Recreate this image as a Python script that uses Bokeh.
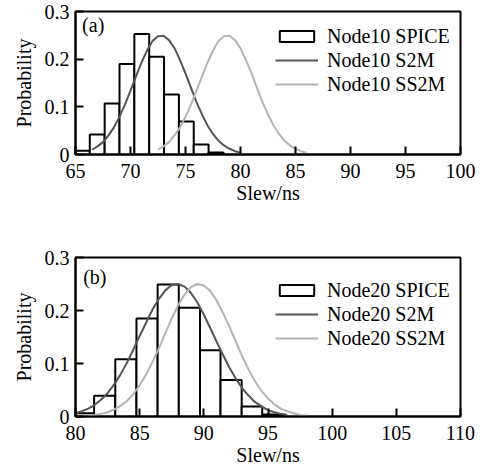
from bokeh.plotting import figure
from bokeh.models import Range1d, FixedTicker, Label
from bokeh.layouts import column
from bokeh.embed import file_html
from bokeh.resources import INLINE

# ---------------- data: panel (a) ----------------
a_edges = [65.0, 66.3, 67.65, 69.0, 70.35, 71.7, 73.05, 74.4, 75.75, 77.1, 78.45]
a_spice = [0.008, 0.042, 0.107, 0.190, 0.253, 0.205, 0.126, 0.069, 0.021, 0.004]
a_s2m_x = [66.5, 67.0, 67.5, 68.0, 68.5, 69.0, 69.5, 70.0, 70.5, 71.0, 71.5, 72.0, 72.5, 73.0,
           73.5, 74.0, 74.5, 75.0, 75.5, 76.0, 76.5, 77.0, 77.5, 78.0, 78.5, 79.0, 79.5, 80.0]
a_s2m_y = [0.010, 0.017, 0.026, 0.040, 0.057, 0.079, 0.105, 0.134, 0.164, 0.193, 0.218, 0.238, 0.248, 0.249,
           0.240, 0.223, 0.198, 0.170, 0.140, 0.110, 0.084, 0.061, 0.043, 0.029, 0.019, 0.012, 0.007, 0.004]
a_ss2m_x = [72.5, 73.0, 73.5, 74.0, 74.5, 75.0, 75.5, 76.0, 76.5, 77.0, 77.5, 78.0, 78.5, 79.0,
            79.5, 80.0, 80.5, 81.0, 81.5, 82.0, 82.5, 83.0, 83.5, 84.0, 84.5, 85.0, 85.5, 86.0]
a_ss2m_y = [0.010, 0.017, 0.026, 0.040, 0.057, 0.079, 0.105, 0.134, 0.164, 0.193, 0.218, 0.238, 0.248, 0.249,
            0.240, 0.223, 0.198, 0.170, 0.140, 0.110, 0.084, 0.061, 0.043, 0.029, 0.019, 0.012, 0.007, 0.004]
a_xticks = [65, 70, 75, 80, 85, 90, 95, 100]

# ---------------- data: panel (b) ----------------
b_edges = [80.0, 81.45, 83.1, 84.75, 86.4, 88.05, 89.7, 91.3, 92.95, 94.55, 96.2]
b_spice = [0.006, 0.039, 0.108, 0.185, 0.249, 0.205, 0.125, 0.069, 0.019, 0.004]
b_s2m_x = [80.0, 80.5, 81.0, 81.5, 82.0, 82.5, 83.0, 83.5, 84.0, 84.5, 85.0, 85.5, 86.0, 86.5, 87.0, 87.5, 88.0,
           88.5, 89.0, 89.5, 90.0, 90.5, 91.0, 91.5, 92.0, 92.5, 93.0, 93.5, 94.0, 94.5, 95.0, 95.5, 96.0, 96.5]
b_s2m_y = [0.006, 0.010, 0.015, 0.022, 0.032, 0.044, 0.060, 0.079, 0.101, 0.126, 0.152, 0.177, 0.202, 0.222, 0.238, 0.248, 0.250,
           0.245, 0.233, 0.215, 0.192, 0.167, 0.141, 0.116, 0.092, 0.071, 0.053, 0.039, 0.027, 0.019, 0.012, 0.008, 0.005, 0.003]
b_ss2m_x = [81.0, 81.5, 82.0, 82.5, 83.0, 83.5, 84.0, 84.5, 85.0, 85.5, 86.0, 86.5, 87.0, 87.5, 88.0, 88.5, 89.0, 89.5,
            90.0, 90.5, 91.0, 91.5, 92.0, 92.5, 93.0, 93.5, 94.0, 94.5, 95.0, 95.5, 96.0, 96.5, 97.0, 97.5, 98.0]
b_ss2m_y = [0.002, 0.003, 0.005, 0.008, 0.013, 0.020, 0.029, 0.042, 0.059, 0.079, 0.103, 0.129, 0.157, 0.185, 0.210, 0.230, 0.244, 0.250,
            0.247, 0.237, 0.219, 0.195, 0.169, 0.141, 0.113, 0.088, 0.066, 0.048, 0.034, 0.023, 0.015, 0.010, 0.006, 0.003, 0.002]
b_xticks = [80, 85, 90, 95, 100, 105, 110]

yticks = [0, 0.1, 0.2, 0.3]
ytick_labels = {0: "0", 0.1: "0.1", 0.2: "0.2", 0.3: "0.3"}

FONT = "Liberation Serif"
DARK = "#555555"
LIGHT = "#b4b4b4"


def panel(edges, spice, s2m_x, s2m_y, ss2m_x, ss2m_y, xticks, node, tag,
          height, top, bottom, leg_y, tag_y):
    p = figure(width=478, height=height,
               x_range=Range1d(xticks[0], xticks[-1]), y_range=Range1d(0, 0.3),
               output_backend="svg", toolbar_location=None,
               min_border_left=75, min_border_right=18,
               min_border_top=top, min_border_bottom=bottom)
    p.quad(left=edges[:-1], right=edges[1:], bottom=0, top=spice,
           fill_color="white", line_color="black", line_width=2,
           legend_label=f"{node} SPICE")
    p.line(s2m_x, s2m_y, line_color=DARK, line_width=2, legend_label=f"{node} S2M")
    p.line(ss2m_x, ss2m_y, line_color=LIGHT, line_width=2, legend_label=f"{node} SS2M")

    p.xgrid.visible = False
    p.ygrid.visible = False
    p.outline_line_color = "black"
    p.outline_line_width = 2
    p.outline_line_alpha = 1

    for ax in p.xaxis + p.yaxis:
        ax.axis_line_width = 2
        ax.axis_line_color = "black"
        ax.major_tick_in = 8
        ax.major_tick_out = 0
        ax.major_tick_line_width = 2
        ax.major_tick_line_color = "black"
        ax.minor_tick_line_color = None
        ax.major_label_text_font = FONT
        ax.major_label_text_font_size = "20px"
        ax.major_label_text_color = "black"
        ax.axis_label_text_font = FONT
        ax.axis_label_text_font_size = "20px"
        ax.axis_label_text_font_style = "normal"
        ax.axis_label_text_color = "black"

    p.xaxis.ticker = FixedTicker(ticks=xticks)
    p.xaxis.major_label_standoff = 9
    p.xaxis.axis_label = "Slew/ns"
    p.xaxis.axis_label_standoff = 1

    p.yaxis.ticker = FixedTicker(ticks=yticks)
    p.yaxis.major_label_overrides = ytick_labels
    p.yaxis.major_label_standoff = 6
    p.yaxis.axis_label = "Probability"
    p.yaxis.axis_label_standoff = 7

    leg = p.legend[0]
    leg.location = (200, leg_y)
    leg.label_text_font = FONT
    leg.label_text_font_size = "20px"
    leg.label_text_color = "black"
    leg.glyph_width = 43
    leg.glyph_height = 14
    leg.label_height = 24
    leg.label_standoff = 9
    leg.spacing = 0
    leg.padding = 0
    leg.margin = 0
    leg.border_line_alpha = 0
    leg.background_fill_alpha = 0

    p.add_layout(Label(x=xticks[0] + 0.6 * (xticks[1] - xticks[0]) / 5, y=tag_y, text=tag,
                       text_baseline="top", text_font=FONT, text_font_size="20px",
                       text_color="black"))
    return p


pa = panel(a_edges, a_spice, a_s2m_x, a_s2m_y, a_ss2m_x, a_ss2m_y, a_xticks,
           "Node10", "(a)", height=230, top=11, bottom=76, leg_y=58, tag_y=0.294)
pb = panel(b_edges, b_spice, b_s2m_x, b_s2m_y, b_ss2m_x, b_ss2m_y, b_xticks,
           "Node20", "(b)", height=240, top=27, bottom=54, leg_y=66, tag_y=0.284)

layout = column(pa, pb, spacing=0)
open("out.html", "w").write(file_html(layout, INLINE))
